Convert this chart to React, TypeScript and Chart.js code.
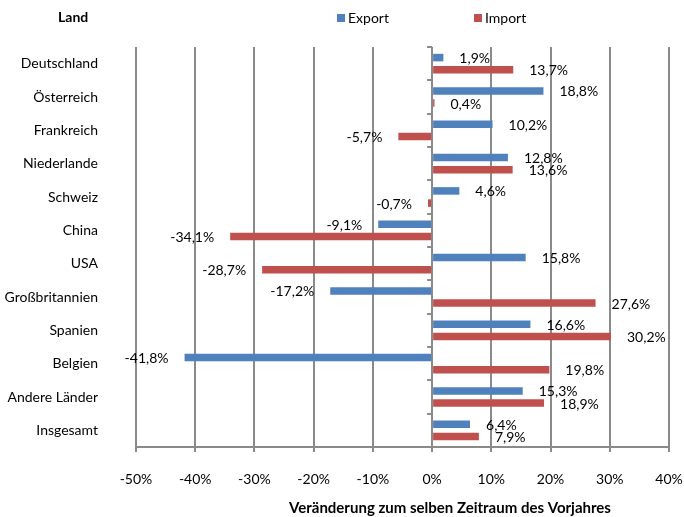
import React, { useEffect, useRef } from "react";
import { Chart, registerables } from "chart.js";

Chart.register(...registerables);

const categories = [
  "Deutschland",
  "Österreich",
  "Frankreich",
  "Niederlande",
  "Schweiz",
  "China",
  "USA",
  "Großbritannien",
  "Spanien",
  "Belgien",
  "Andere Länder",
  "Insgesamt",
];
const exportValues = [1.9, 18.8, 10.2, 12.8, 4.6, -9.1, 15.8, -17.2, 16.6, -41.8, 15.3, 6.4];
const importValues = [13.7, 0.4, -5.7, 13.6, -0.7, -34.1, -28.7, 27.6, 30.2, 19.8, 18.9, 7.9];
const xMin = -50;
const xMax = 40;
const xStep = 10;
const yAxisTitle = "Land";
const xAxisTitle = "Veränderung zum selben Zeitraum des Vorjahres";

const FONT = "Lato, 'Liberation Sans', sans-serif";
const GRID = "#8a8a8a";

const fmt = (v: number) => v.toFixed(1).replace(".", ",") + "%";

const decorPlugin = {
  id: "decor",
  afterDatasetsDraw(chart: any) {
    const ctx = chart.ctx;
    const xs = chart.scales.x;
    const ys = chart.scales.y;
    ctx.save();
    const x0 = xs.getPixelForValue(0);
    ctx.strokeStyle = GRID;
    ctx.lineWidth = 2;
    for (let i = 0; i <= categories.length; i++) {
      const y = Math.round(ys.getPixelForValue(i - 0.5));
      ctx.beginPath();
      ctx.moveTo(x0 - 5, y);
      ctx.lineTo(x0, y);
      ctx.stroke();
    }
    ctx.font = `14px ${FONT}`;
    ctx.fillStyle = "#000";
    ctx.textBaseline = "middle";
    chart.data.datasets.forEach((ds: any, di: number) => {
      const meta = chart.getDatasetMeta(di);
      meta.data.forEach((bar: any, i: number) => {
        const v = ds.data[i];
        const y = bar.y + 1;
        if (v >= 0) {
          ctx.textAlign = "left";
          ctx.fillText(fmt(v), bar.x + 16, y);
        } else {
          ctx.textAlign = "right";
          ctx.fillText(fmt(v), bar.x - 16, y);
        }
      });
    });
    ctx.restore();
  },
  afterDraw(chart: any) {
    const ctx = chart.ctx;
    ctx.save();
    ctx.fillStyle = "#000";
    ctx.textBaseline = "middle";
    ctx.font = `bold 14px ${FONT}`;
    ctx.textAlign = "left";
    ctx.fillText(yAxisTitle, 58, 17);
    ctx.font = `bold 15px ${FONT}`;
    ctx.textAlign = "center";
    ctx.fillText(xAxisTitle, 450, 508);
    const legendX = [337, 474];
    ctx.font = `14px ${FONT}`;
    ctx.textAlign = "left";
    chart.data.datasets.forEach((ds: any, i: number) => {
      const lx = legendX[i];
      ctx.fillStyle = ds.backgroundColor;
      ctx.fillRect(lx, 14, 8, 8);
      ctx.fillStyle = "#000";
      ctx.fillText(ds.label, lx + 11, 18);
    });
    ctx.restore();
  },
};

export default function App() {
  const ref = useRef<HTMLCanvasElement | null>(null);
  useEffect(() => {
    document.body.style.margin = "0";
    const canvas = ref.current!;
    const chart = new Chart(canvas, {
      type: "bar",
      data: {
        labels: categories,
        datasets: [
          {
            label: "Export",
            data: exportValues,
            backgroundColor: "#4F81BD",
            barPercentage: 0.62,
            categoryPercentage: 0.73,
          },
          {
            label: "Import",
            data: importValues,
            backgroundColor: "#C0504D",
            barPercentage: 0.62,
            categoryPercentage: 0.73,
          },
        ],
      },
      options: {
        indexAxis: "y",
        animation: false,
        responsive: false,
        devicePixelRatio: 1,
        layout: { padding: { top: 47, right: 15, left: 0, bottom: 0 } },
        plugins: {
          legend: { display: false },
          tooltip: { enabled: false },
        },
        scales: {
          x: {
            min: xMin,
            max: xMax,
            afterFit: (s: any) => {
              s.height = 70;
              s.paddingLeft = 0;
              s.paddingRight = 0;
            },
            ticks: {
              stepSize: xStep,
              padding: 19,
              color: "#000",
              font: { family: FONT, size: 14 },
              callback: (v: any) => `${v}%`,
            },
            grid: {
              color: GRID,
              lineWidth: 2,
              tickLength: 5,
              drawTicks: true,
            },
            border: { display: true, color: GRID, width: 2 },
          },
          y: {
            afterFit: (s: any) => {
              s.width = 136;
              s.paddingTop = 0;
              s.paddingBottom = 0;
            },
            ticks: {
              padding: 38,
              color: "#000",
              font: { family: FONT, size: 14 },
            },
            grid: { display: false, drawTicks: false },
            border: { display: false },
          },
        },
      },
      plugins: [decorPlugin],
    } as any);
    return () => chart.destroy();
  }, []);
  return <canvas ref={ref} width={684} height={517} style={{ display: "block" }} />;
}
